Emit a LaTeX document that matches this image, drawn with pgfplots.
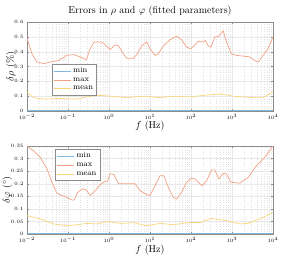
\documentclass[border=0pt]{standalone}
\usepackage{pgfplots}
\pgfplotsset{compat=1.18}
\definecolor{mblue}{rgb}{0.50,0.72,0.88}
\definecolor{morange}{rgb}{0.95,0.63,0.52}
\definecolor{myellow}{rgb}{0.98,0.84,0.48}
\definecolor{axgray}{rgb}{0.55,0.55,0.55}
\begin{document}
\begin{tikzpicture}
\begin{pgfinterruptboundingbox}
\begin{axis}[at={(0,0)}, anchor=south west,
  scale only axis, width=246pt, height=89pt,
  xmode=log, xmin=1e-2, xmax=1e4,
  xtick={1e-2,1e-1,1e0,1e1,1e2,1e3,1e4},
  grid=both,
  major grid style={gray!18, line width=0.3pt},
  minor grid style={gray!22, dotted, line width=0.25pt},
  axis line style={axgray, line width=0.4pt},
  tick style={axgray, line width=0.3pt},
  major tick length=2pt, minor tick length=1.2pt,
  tick align=inside,
  ticklabel style={font=\fontsize{5.2}{6}\selectfont},
  label style={font=\fontsize{10}{11}\selectfont},
  xlabel={$f$ (Hz)},
  xlabel style={at={(axis description cs:0.5,0)}, anchor=center, yshift=-15pt},
  ylabel style={at={(axis description cs:-0.065,0.5)}, anchor=center},
  legend style={font=\fontsize{8}{9}\selectfont, draw=axgray, fill=white, line width=0.4pt,
    row sep=-0.5pt, inner sep=1.5pt, at={(0.10,0.53)}, anchor=north west},
  legend cell align=left,
  legend image post style={line width=0.8pt},
  scaled y ticks=false,
  yticklabel style={/pgf/number format/fixed},
  ymin=0, ymax=0.6, ytick={0,0.1,0.2,0.3,0.4,0.5,0.6},
  ylabel={$\delta\rho$ (\%)},
  title={Errors in $\rho$ and $\varphi$ (fitted parameters)},
  title style={font=\fontsize{10}{11}\selectfont, at={(axis description cs:0.5,1)}, anchor=center, yshift=5pt}]
\addplot[mblue, line width=0.7pt, no marks] table[x expr=10^\thisrow{lx}, y=v] {
lx v
-2 0.002
4 0.002
};
\addplot[morange, line width=0.7pt, no marks] table[x expr=10^\thisrow{lx}, y=v] {
lx v
-2.000 0.490
-1.878 0.385
-1.757 0.330
-1.594 0.320
-1.432 0.330
-1.230 0.340
-1.027 0.375
-0.865 0.380
-0.702 0.365
-0.556 0.345
-0.459 0.420
-0.362 0.465
-0.175 0.465
-0.070 0.440
0.027 0.415
0.149 0.445
0.230 0.440
0.352 0.385
0.433 0.355
0.595 0.355
0.676 0.380
0.798 0.440
0.920 0.465
1.001 0.420
1.122 0.375
1.204 0.385
1.325 0.440
1.487 0.480
1.650 0.505
1.771 0.480
1.893 0.430
1.990 0.420
2.079 0.440
2.177 0.470
2.298 0.465
2.355 0.475
2.420 0.440
2.485 0.430
2.582 0.500
2.663 0.500
2.785 0.540
2.866 0.465
2.988 0.385
3.109 0.375
3.272 0.370
3.434 0.365
3.556 0.340
3.637 0.330
3.758 0.375
3.880 0.420
4.000 0.500
};
\addplot[myellow, line width=0.7pt, no marks] table[x expr=10^\thisrow{lx}, y=v] {
lx v
-2.000 0.125
-1.838 0.090
-1.594 0.080
-1.230 0.085
-0.783 0.080
-0.459 0.100
-0.216 0.105
0.027 0.100
0.433 0.090
0.839 0.100
1.244 0.090
1.569 0.100
1.974 0.095
2.298 0.105
2.704 0.115
3.028 0.100
3.515 0.090
3.758 0.090
4.000 0.130
};
\legend{min,max,mean}
\end{axis}
\begin{axis}[at={(0,-123pt)}, anchor=south west,
  scale only axis, width=246pt, height=88pt,
  xmode=log, xmin=1e-2, xmax=1e4,
  xtick={1e-2,1e-1,1e0,1e1,1e2,1e3,1e4},
  grid=both,
  major grid style={gray!18, line width=0.3pt},
  minor grid style={gray!22, dotted, line width=0.25pt},
  axis line style={axgray, line width=0.4pt},
  tick style={axgray, line width=0.3pt},
  major tick length=2pt, minor tick length=1.2pt,
  tick align=inside,
  ticklabel style={font=\fontsize{5.2}{6}\selectfont},
  label style={font=\fontsize{10}{11}\selectfont},
  xlabel={$f$ (Hz)},
  xlabel style={at={(axis description cs:0.5,0)}, anchor=center, yshift=-16pt},
  ylabel style={at={(axis description cs:-0.08,0.5)}, anchor=center},
  legend style={font=\fontsize{8}{9}\selectfont, draw=axgray, fill=white, line width=0.4pt,
    row sep=-0.5pt, inner sep=1.5pt, at={(0.114,0.966)}, anchor=north west},
  legend cell align=left,
  legend image post style={line width=0.8pt},
  scaled y ticks=false,
  yticklabel style={/pgf/number format/fixed},
  ymin=0, ymax=0.35, ytick={0,0.05,0.1,0.15,0.2,0.25,0.3,0.35},
  ylabel={$\delta\varphi$ ($^\circ$)}]
\addplot[mblue, line width=0.7pt, no marks] table[x expr=10^\thisrow{lx}, y=v] {
lx v
-2 0.0015
4 0.0015
};
\addplot[morange, line width=0.7pt, no marks] table[x expr=10^\thisrow{lx}, y=v] {
lx v
-2.000 0.350
-1.838 0.330
-1.676 0.305
-1.513 0.260
-1.392 0.205
-1.270 0.162
-1.148 0.153
-1.027 0.146
-0.905 0.135
-0.848 0.135
-0.767 0.165
-0.637 0.180
-0.556 0.175
-0.459 0.153
-0.337 0.172
-0.216 0.196
-0.094 0.210
-0.037 0.210
0.027 0.240
0.125 0.236
0.230 0.200
0.433 0.200
0.636 0.200
0.758 0.172
0.920 0.157
1.001 0.153
1.122 0.192
1.244 0.232
1.341 0.232
1.447 0.186
1.569 0.146
1.650 0.139
1.771 0.166
1.893 0.206
2.015 0.222
2.096 0.219
2.217 0.200
2.274 0.192
2.380 0.212
2.501 0.255
2.582 0.255
2.680 0.219
2.785 0.241
2.866 0.239
2.972 0.206
3.191 0.202
3.393 0.225
3.596 0.272
3.799 0.305
4.000 0.350
};
\addplot[myellow, line width=0.7pt, no marks] table[x expr=10^\thisrow{lx}, y=v] {
lx v
-2.000 0.073
-1.676 0.060
-1.351 0.040
-1.027 0.033
-0.783 0.037
-0.540 0.042
-0.297 0.040
-0.013 0.050
0.271 0.042
0.595 0.045
0.920 0.033
1.244 0.042
1.569 0.037
1.974 0.046
2.217 0.046
2.501 0.062
2.866 0.053
3.191 0.040
3.393 0.042
3.758 0.066
4.000 0.085
};
\legend{min,max,mean}
\end{axis}
\end{pgfinterruptboundingbox}
\path (-27pt,-150pt) rectangle (259pt,111pt);
\end{tikzpicture}
\end{document}
